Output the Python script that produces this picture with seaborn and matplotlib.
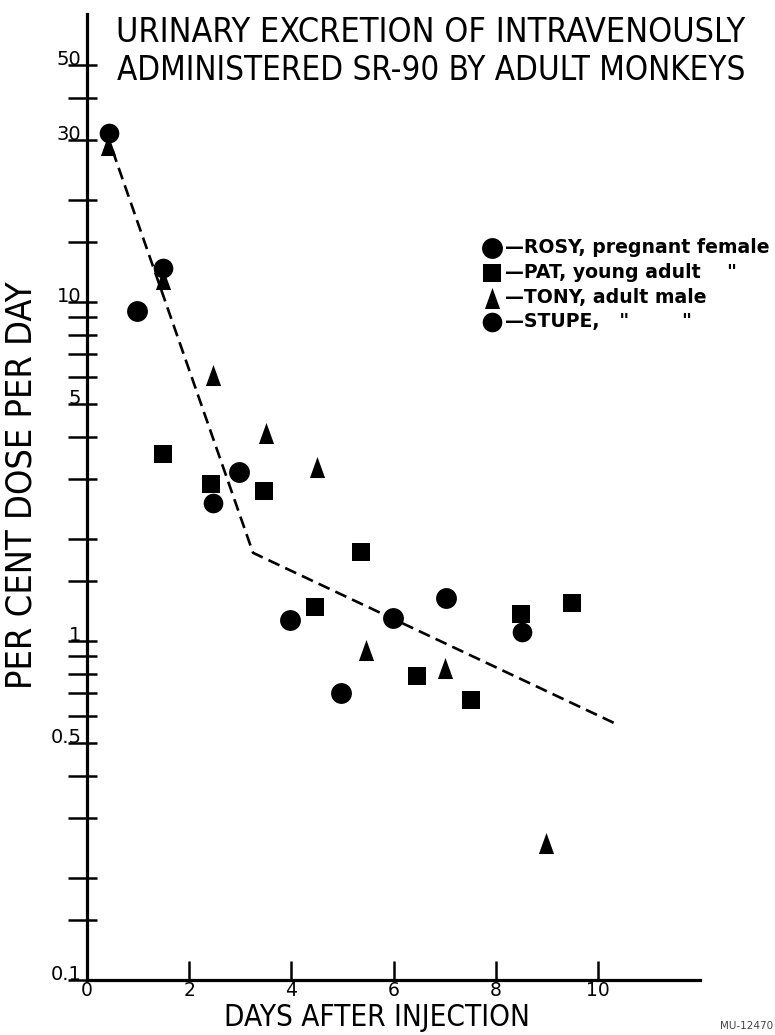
import matplotlib
matplotlib.use("Agg")
import matplotlib.pyplot as plt
from matplotlib import font_manager
from matplotlib.path import Path
from matplotlib.ticker import FixedLocator, NullFormatter
import seaborn as sns

# ---------------- data ----------------
rosy_days = [0.97, 2.97, 3.97, 4.97, 5.99, 7.03]
rosy_vals = [9.4, 3.15, 1.15, 0.70, 1.17, 1.34]

pat_days = [1.48, 2.43, 3.47, 4.46, 5.37, 6.46, 7.52, 8.49, 9.50]
pat_vals = [3.55, 2.90, 2.77, 1.26, 1.83, 0.79, 0.67, 1.20, 1.29]

tony_days = [0.41, 1.48, 2.46, 3.50, 4.50, 5.46, 7.00, 8.99]
tony_vals = [29.0, 11.7, 6.1, 4.1, 3.25, 0.94, 0.83, 0.254]

stupe_days = [0.44, 1.48, 2.47, 8.51]
stupe_vals = [31.5, 12.6, 2.55, 1.06]

fit_days = [0.50, 3.25, 10.35]
fit_vals = [28.0, 1.82, 0.57]

xtick_vals = [0, 2, 4, 6, 8, 10]
xtick_labels = ["0", "2", "4", "6", "8", "10"]
ytick_vals = [0.1, 0.15, 0.2, 0.3, 0.4, 0.5, 0.6, 0.7, 0.8, 0.9,
              1, 1.5, 2, 3, 4, 5, 6, 7, 8, 9, 10, 15, 20, 30, 40, 50]
ytick_labels = ["0.1", "", "", "", "", "0.5", "", "", "", "",
                "1", "", "", "", "", "5", "", "", "", "", "10", "", "", "30", "", "50"]

series_labels = ["\u2014ROSY, pregnant female",
                 "\u2014PAT, young adult    \"",
                 "\u2014TONY, adult male",
                 "\u2014STUPE,   \"        \""]

title_lines = ["URINARY EXCRETION OF INTRAVENOUSLY",
               "ADMINISTERED SR-90 BY ADULT MONKEYS"]
x_title = "DAYS AFTER INJECTION"
y_title = "PER CENT DOSE PER DAY"

# ---------------- style ----------------
sns.set_theme(style="white")
plt.rcParams["font.family"] = ["DejaVu Sans"]
plt.rcParams["text.color"] = "black"

names = {f.name for f in font_manager.fontManager.ttflist}
if "Liberation Sans Narrow" in names:
    LETTER = dict(family="Liberation Sans Narrow")
else:
    cond = [f for f in font_manager.fontManager.ttflist
            if f.name == "DejaVu Sans" and "condensed" in str(f.stretch)]
    LETTER = dict(family="DejaVu Sans", fontstretch="condensed") if cond else dict(family="DejaVu Sans")

fig = plt.figure(figsize=(7.75, 10.35), dpi=100)
ax = fig.add_axes([87 / 775, 55 / 1035, 613 / 775, 966 / 1035])

tri = Path([(0, 0.5), (-0.36, -0.5), (0.36, -0.5), (0, 0.5)],
           [Path.MOVETO, Path.LINETO, Path.LINETO, Path.CLOSEPOLY])

sns.lineplot(x=fit_days, y=fit_vals, ax=ax, color="black", linewidth=1.9,
             linestyle=(0, (4.6, 2.4)), zorder=2)

common = dict(ax=ax, color="black", edgecolor="black", linewidth=0, zorder=3)
sns.scatterplot(x=rosy_days, y=rosy_vals, marker="o", s=225, label=series_labels[0], **common)
sns.scatterplot(x=pat_days, y=pat_vals, marker="s", s=150, label=series_labels[1], **common)
sns.scatterplot(x=tony_days, y=tony_vals, marker=tri, s=230, label=series_labels[2], **common)
sns.scatterplot(x=stupe_days, y=stupe_vals, marker="o", s=200, label=series_labels[3], **common)

ax.set_yscale("log")
ax.set_xlim(0, 12)
ax.set_ylim(0.1, 70.7)

ax.set_xticks(xtick_vals)
ax.set_xticklabels(xtick_labels)
ax.set_yticks(ytick_vals)
ax.set_yticklabels(ytick_labels)
ax.yaxis.set_minor_locator(FixedLocator(ytick_vals))
ax.yaxis.set_minor_formatter(NullFormatter())
ax.yaxis.remove_overlapping_locs = False
ax.xaxis.set_minor_locator(FixedLocator([]))

ax.tick_params(axis="y", which="major", left=True, direction="out", length=14, width=1.8,
               pad=-10, labelsize=14, colors="black")
ax.tick_params(axis="y", which="minor", left=True, direction="in", length=7.5, width=1.8,
               colors="black")
ax.tick_params(axis="x", which="major", bottom=True, direction="in", length=14, width=1.8,
               pad=1, labelsize=13.5, colors="black")
for lab in ax.get_yticklabels():
    lab.set_verticalalignment("baseline")
    lab.set_fontweight("medium")
for lab in ax.get_xticklabels():
    lab.set_fontweight("medium")

sns.despine(ax=ax)
for s in ("left", "bottom"):
    ax.spines[s].set_linewidth(2.3)
    ax.spines[s].set_color("black")
ax.set_xlabel("")
ax.set_ylabel("")
ax.grid(False)

leg = ax.legend(loc="upper left", bbox_to_anchor=(471 / 775, 1 - 229 / 1035),
                bbox_transform=fig.transFigure, frameon=False, borderpad=0,
                handlelength=1.2, handletextpad=0.1, labelspacing=0.3,
                prop=dict(size=13.6, weight="bold"), labelcolor="black")

t1 = fig.text(431 / 775, 1 - 32 / 1035, title_lines[0], ha="center", va="center",
              fontsize=22, color="black", **LETTER)
t2 = fig.text(431 / 775, 1 - 70 / 1035, title_lines[1], ha="center", va="center",
              fontsize=22, color="black", **LETTER)
tx = fig.text(377 / 775, 1 - 1018 / 1035, x_title, ha="center", va="center",
              fontsize=20, color="black", **LETTER)
ty = fig.text(22 / 775, 1 - 485 / 1035, y_title, ha="center", va="center",
              rotation=90, fontsize=23, color="black", **LETTER)
fig.text(773 / 775, 1 - 1026 / 1035, "MU-12470", ha="right", va="center",
         fontsize=7.5, color="#444444")

def fit(txt, target, vertical=False):
    fig.canvas.draw()
    bb = txt.get_window_extent(fig.canvas.get_renderer())
    cur = bb.height if vertical else bb.width
    txt.set_fontsize(txt.get_fontsize() * target / cur)

fit(t1, 627)
fit(t2, 630)
fit(tx, 306)
fit(ty, 410, vertical=True)

fig.savefig("out.png", dpi=100)
